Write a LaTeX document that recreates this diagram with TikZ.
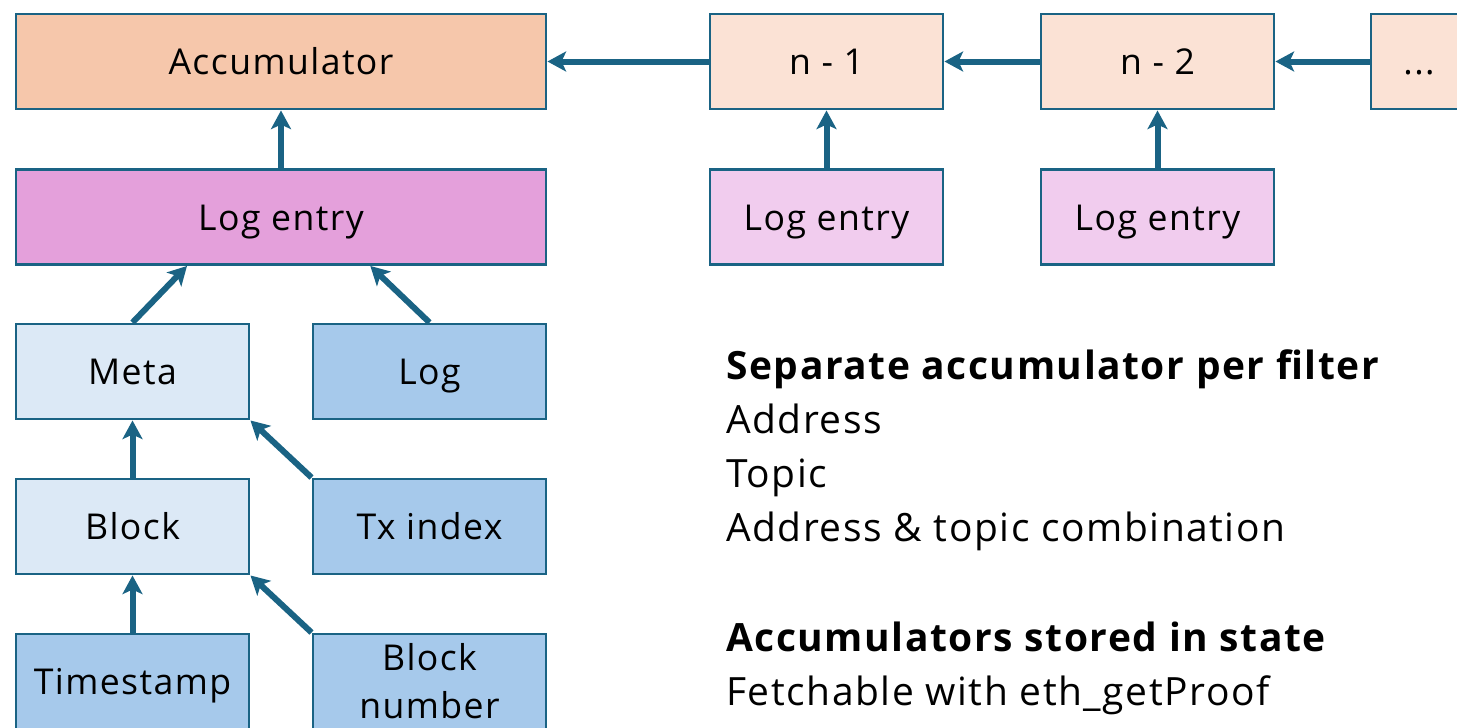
\documentclass[tikz,border=0pt]{standalone}
\usepackage{fontspec}
\setmainfont{Open Sans}[LetterSpace=4]
\usetikzlibrary{arrows.meta}
\definecolor{edgeblue}{HTML}{1A6384}
\definecolor{accfill}{HTML}{F6C7AB}
\definecolor{prevfill}{HTML}{FBE2D5}
\definecolor{logfill}{HTML}{E4A0DB}
\definecolor{logpale}{HTML}{F1CCEE}
\definecolor{lightblue}{HTML}{DCE9F6}
\definecolor{midblue}{HTML}{A6C9EB}
\newcommand{\nodefont}{\fontsize{26.7}{36}\selectfont}
\newcommand{\sidefont}{\fontsize{29.2}{36}\selectfont}
\begin{document}
\begin{tikzpicture}[x=0.75pt,y=-0.75pt,
  boxbase/.style={draw=edgeblue, line width=2.2pt, inner sep=0pt, minimum width=174.75pt,
    minimum height=71.25pt, align=center, font=\nodefont},
  box/.style={boxbase, text height=24.4pt, text depth=4.2pt},
  widebox/.style={box, minimum width=397.5pt},
  arr/.style={draw=edgeblue, line width=4.5pt, -{Stealth[length=14pt,width=15pt,inset=3.5pt]}},
  txt/.style={anchor=base west, inner sep=0pt, font=\sidefont},
  head/.style={txt, font=\sidefont\bfseries}]
\useasboundingbox (0,0) rectangle (1457,728);
% top row
\node[widebox, fill=accfill] (acc) at (281,61.5) {Accumulator};
\node[box, fill=prevfill] (n1) at (826.5,61.5) {n - 1};
\node[box, fill=prevfill] (n2) at (1157.5,61.5) {n - 2};
\node[box, fill=prevfill, minimum width=72pt] (n3) at (1419,61.5) {...};
% log entries
\node[widebox, fill=logfill] (le0) at (281,217) {Log entry};
\node[box, fill=logpale] (le1) at (826.5,217) {Log entry};
\node[box, fill=logpale] (le2) at (1157.5,217) {Log entry};
% tree
\node[box, fill=lightblue] (meta) at (132.5,371.5) {Meta};
\node[box, fill=midblue] (log) at (429.5,371.5) {Log};
\node[box, fill=lightblue] (block) at (132.5,526.5) {Block};
\node[box, fill=midblue] (tx) at (429.5,526.5) {Tx index};
\node[box, fill=midblue] (ts) at (132.5,681.5) {Timestamp};
\node[boxbase, fill=midblue] (bn) at (429.5,681.5) {Block\\number};
% arrows
\draw[arr] (n1.west) -- (acc.east);
\draw[arr] (n2.west) -- (n1.east);
\draw[arr] (n3.west) -- (n2.east);
\draw[arr] (le0.north) -- (acc.south);
\draw[arr] (le1.north) -- (n1.south);
\draw[arr] (le2.north) -- (n2.south);
\draw[arr] (meta.north) -- ([xshift=-70.5pt]le0.south);
\draw[arr] (log.north) -- ([xshift=67pt]le0.south);
\draw[arr] (block.north) -- (meta.south);
\draw[arr] (tx.north west) -- (meta.south east);
\draw[arr] (ts.north) -- (block.south);
\draw[arr] (bn.north west) -- (block.south east);
% right text
\node[head] (h1) at (726,379) {Separate accumulator per filter};
\node[txt] (t1) at (726,433) {Address};
\node[txt] (t2) at (726,487) {Topic};
\node[txt] (t3) at (726,541) {Address \& topic combination};
\node[head] (h2) at (726,651) {Accumulators stored in state};
\node[txt] (t4) at (726,705) {Fetchable with eth\_getProof};
\end{tikzpicture}
\end{document}
